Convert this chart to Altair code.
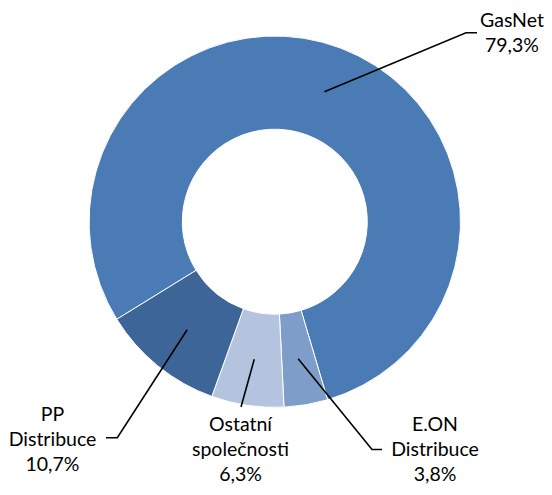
import math
import altair as alt
import pandas as pd

# ---- data ----
names = ["GasNet", "E.ON Distribuce", "Ostatní společnosti", "PP Distribuce"]
labels = ["GasNet", "E.ON\nDistribuce", "Ostatní\nspolečnosti", "PP\nDistribuce"]
values = [79.3, 3.8, 6.3, 10.7]
colors = ["#4A7BB4", "#7F9DC9", "#B4C4DF", "#3E6598"]

# ---- layout (chart pixel space) ----
W, H = 536, 479
CX, CY = 266.8, 213.7
R_OUT, R_IN = 185.7, 92.5
START_DEG = 238.3
# elbow / end of each leader line, and centre of first label line
elbows = [(458, 24.7), (364, 441.5), (233, 399), (109.3, 429.7)]
ends = [(469, 24.7), (374, 441.5), (233, 399), (98, 429.7)]
label_pos = [(504, 12.7), (427, 417), (232.5, 417), (44.5, 407)]

total = sum(values)
start_rad = math.radians(START_DEG)

df = pd.DataFrame({"name": names, "value": values, "idx": list(range(len(names)))})

# leader lines: start at slice mid-angle on mid-ring radius
rows = []
cum = 0.0
r_mid = (R_OUT + R_IN) / 2
for i, (n, v) in enumerate(zip(names, values)):
    mid = start_rad + (cum + v / 2) / total * 2 * math.pi
    cum += v
    px = CX + r_mid * math.sin(mid)
    py = CY - r_mid * math.cos(mid)
    pts = [(px, py), elbows[i], ends[i]]
    for k, (x, y) in enumerate(pts):
        rows.append({"name": n, "k": k, "x": x, "y": y})
lines_df = pd.DataFrame(rows)

txt_df = pd.DataFrame({
    "name": names,
    "text": [l + "\n" + f"{v:.1f}".replace(".", ",") + "%" for l, v in zip(labels, values)],
    "x": [p[0] for p in label_pos],
    "y": [p[1] for p in label_pos],
})

xs = alt.Scale(domain=[0, W], range=[0, W])
ys = alt.Scale(domain=[0, H], range=[0, H])

arcs = alt.Chart(df).mark_arc(
    outerRadius=R_OUT, innerRadius=R_IN, stroke="white", strokeWidth=1
).encode(
    theta=alt.Theta("value:Q", stack=True,
                    scale=alt.Scale(range=[start_rad, start_rad + 2 * math.pi])),
    color=alt.Color("name:N", scale=alt.Scale(domain=names, range=colors), legend=None),
    order=alt.Order("idx:Q"),
    x=alt.value(CX),
    y=alt.value(CY),
)

leaders = alt.Chart(lines_df).mark_line(color="black", strokeWidth=1.6).encode(
    x=alt.X("x:Q", scale=xs, axis=None),
    y=alt.Y("y:Q", scale=ys, axis=None),
    detail="name:N",
    order="k:Q",
)

texts = alt.Chart(txt_df).mark_text(
    font="Lato", fontSize=19.5, lineBreak="\n", lineHeight=25,
    align="center", baseline="middle", color="#000000"
).encode(
    x=alt.X("x:Q", scale=xs, axis=None),
    y=alt.Y("y:Q", scale=ys, axis=None),
    text="text:N",
)

chart = alt.layer(arcs, leaders, texts).properties(
    width=W, height=H, autosize="none", padding=0
).configure_view(stroke=None)

chart.save("out.html", embed_options={"renderer": "svg", "actions": False})
